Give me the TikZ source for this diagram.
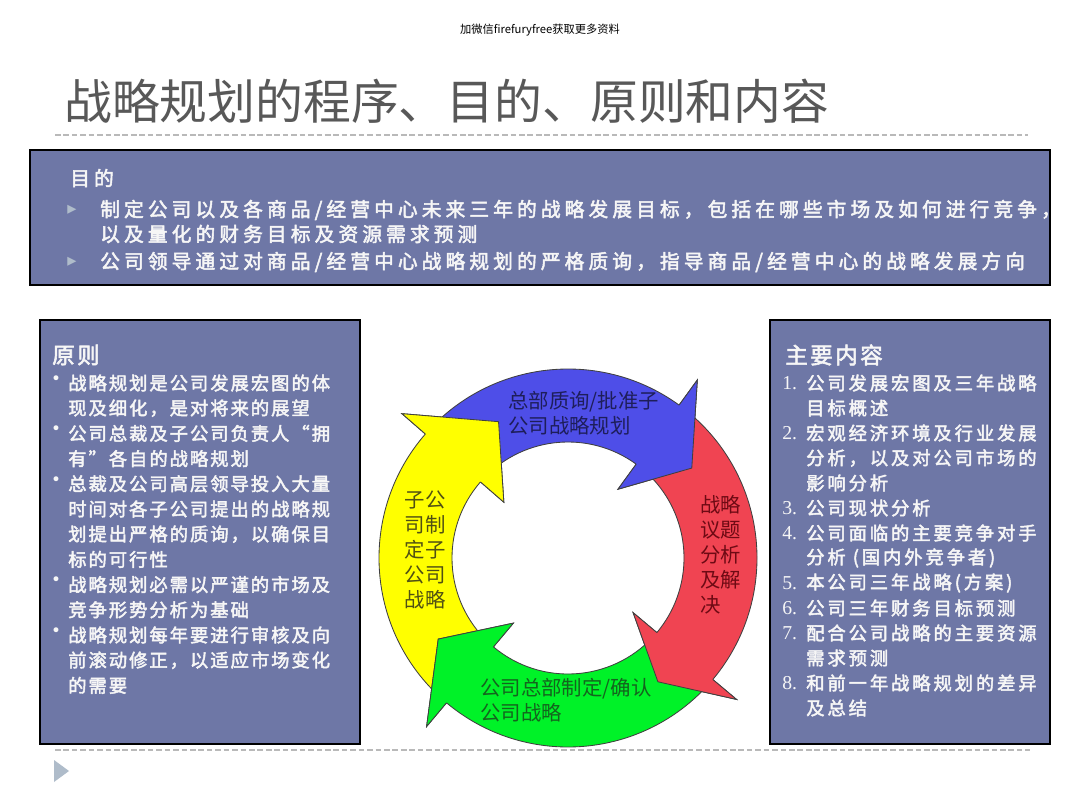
\documentclass[tikz,border=0pt]{standalone}
\usepackage{fontspec}
\usepackage{xcolor}
\setmainfont{Noto Sans CJK SC}
\newfontfamily\titlefont{Noto Sans CJK SC}
\newfontfamily\topkai[LetterSpace=21,FakeBold=2.5]{Noto Sans CJK SC}
\newfontfamily\leftkai[LetterSpace=11,FakeBold=2.5]{Noto Sans CJK SC}
\newfontfamily\rightkai[LetterSpace=16,FakeBold=2.5]{Noto Sans CJK SC}
\newfontfamily\numfont{Liberation Serif}
\newfontfamily\symfont{DejaVu Sans}

\definecolor{panelfill}{RGB}{110,119,166}
\definecolor{paneltext}{RGB}{246,246,246}
\definecolor{arrblue}{RGB}{78,78,232}
\definecolor{arrred}{RGB}{240,68,82}
\definecolor{arrgreen}{RGB}{0,242,40}
\definecolor{arryellow}{RGB}{255,255,0}
\definecolor{txtblue}{RGB}{30,30,90}
\definecolor{txtred}{RGB}{110,10,20}
\definecolor{txtgreen}{RGB}{20,100,30}
\definecolor{txtyellow}{RGB}{80,80,20}
\definecolor{markgray}{RGB}{175,188,202}
\definecolor{titlegray}{RGB}{88,88,88}

\begin{document}
\begin{tikzpicture}[x=0.025cm, y=-0.025cm,
panel/.style={draw=black, line width=1.5pt, fill=panelfill},
toptext/.style={anchor=west, inner sep=0pt, text=paneltext, font=\topkai\fontsize{14}{16}\selectfont},
lefttext/.style={anchor=west, inner sep=0pt, text=paneltext, font=\leftkai\fontsize{13}{16}\selectfont},
righttext/.style={anchor=west, inner sep=0pt, text=paneltext, font=\rightkai\fontsize{13}{16}\selectfont},
numtext/.style={anchor=west, inner sep=0pt, text=paneltext, font=\numfont\fontsize{14}{16}\selectfont},
heading/.style={anchor=west, inner sep=0pt, text=paneltext, font=\leftkai\fontsize{16}{18}\selectfont},
dot/.style={inner sep=0pt, text=paneltext, font=\symfont\fontsize{12}{12}\selectfont},
tri/.style={inner sep=0pt, text=markgray, font=\symfont\fontsize{13}{14}\selectfont},
ringarrow/.style={draw=black!75, line width=0.6pt, line join=miter},
ringlabel/.style={inner sep=0pt, font=\fontsize{14.5}{17.7}\selectfont},
sepline/.style={draw=gray!55, dash pattern=on 4pt off 2pt, line width=1.2pt}
]
\fill[white] (0,0) rectangle (1080,810);
\useasboundingbox (0,0) rectangle (1080,810);

% header
\node[font=\fontsize{8}{9}\selectfont] (wm) at (540,30) {加微信firefuryfree获取更多资料};
\node[anchor=west, inner sep=0pt, text=titlegray, font=\titlefont\fontsize{34}{40}\selectfont] (title) at (64,101) {战略规划的程序、目的、原则和内容};
\draw[sepline] (55,135) -- (1028,135);

% aim panel
\path[panel] (30,150) rectangle (1050,285);
\node[toptext] (aimhead) at (70,178) {目的};
\node[tri] (am1) at (72,210) {▸};
\node[tri] (am2) at (72,262) {▸};
\node[toptext] (aim1) at (100,210) {制定公司以及各商品/经营中心未来三年的战略发展目标，包括在哪些市场及如何进行竞争，};
\node[toptext] (aim2) at (100,234) {以及量化的财务目标及资源需求预测};
\node[toptext] (aim3) at (100,262) {公司领导通过对商品/经营中心战略规划的严格质询，指导商品/经营中心的战略发展方向};

% principle panel
\path[panel] (40,320) rectangle (360,744);
\node[heading] (prhead) at (52,355) {原则};
\foreach \txt [count=\i] in {战略规划是公司发展宏图的体, 现及细化，是对将来的展望,
  公司总裁及子公司负责人“拥, 有”各自的战略规划,
  总裁及公司高层领导投入大量, 时间对各子公司提出的战略规, 划提出严格的质询，以确保目, 标的可行性,
  战略规划必需以严谨的市场及, 竞争形势分析为基础,
  战略规划每年要进行审核及向, 前滚动修正，以适应市场变化, 的需要}
  \node[lefttext] (pr\i) at (68, {383+25.2*(\i-1)}) {\txt};
\foreach \i in {1,3,5,9,11}
  \node[dot] (pd\i) at (56, {380+25.2*(\i-1)}) {•};

% content panel
\path[panel] (770,320) rectangle (1050,744);
\node[heading] (cthead) at (785,355) {主要内容};
\foreach \txt [count=\i] in {公司发展宏图及三年战略, 目标概述,
  宏观经济环境及行业发展, 分析，以及对公司市场的, 影响分析,
  公司现状分析, 公司面临的主要竞争对手, {分析 (国内外竞争者)},
  {本公司三年战略(方案)}, 公司三年财务目标预测, 配合公司战略的主要资源, 需求预测,
  和前一年战略规划的差异, 及总结}
  \node[righttext] (ct\i) at (806, {383+25*(\i-1)}) {\txt};
\foreach \n/\i in {1/1, 2/3, 3/6, 4/7, 5/9, 6/10, 7/11, 8/13}
  \node[numtext] (cn\n) at (782, {383+25*(\i-1)}) {\n.};

% planning cycle
\begin{scope}[shift={(568,558)}, x=0.025cm, y=0.025cm]
\foreach \t/\b/\d/\col in {227/139/22/arryellow, 136/54/18/arrblue, 51/-40/14/arrred, -43/-130/18/arrgreen}
  \path[ringarrow, fill=\col] (\t:189) arc[start angle=\t, end angle=\b, radius=189]
    -- (\b:220) -- ({\b-\d}:153) -- (\b:85) -- (\b:116)
    arc[start angle=\b, end angle=\t, radius=116] -- cycle;
\foreach \b/\d/\col in {139/22/arryellow, 54/18/arrblue, -40/14/arrred, -130/18/arrgreen}
  \path[ringarrow, fill=\col] (\b:189) -- (\b:220) -- ({\b-\d}:153) -- (\b:85) -- (\b:116);
\end{scope}
\node[ringlabel, text=txtblue, align=left, anchor=west] (lblue) at (508,413) {总部质询/批准子\\公司战略规划};
\node[ringlabel, text=txtred, align=left, anchor=west] (lred) at (700,555) {战略\\议题\\分析\\及解\\决};
\node[ringlabel, text=txtyellow, align=right, anchor=east] (lyellow) at (446,550) {子公\\司制\\定子\\公司\\战略};
\node[ringlabel, text=txtgreen, align=left, anchor=west] (lgreen) at (480,700) {公司总部制定/确认\\公司战略};

% footer
\draw[sepline, line width=0.8pt] (55,750) -- (1030,750);
\fill[markgray] (54,760) -- (69,771) -- (54,782) -- cycle;
\end{tikzpicture}
\end{document}
